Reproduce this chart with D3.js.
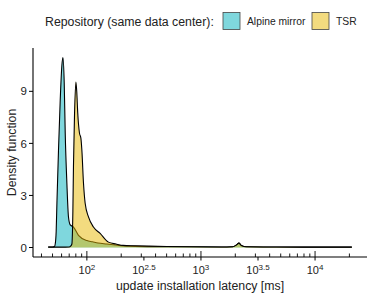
<!DOCTYPE html>
<head>
<meta charset="utf-8">
<script src="https://d3js.org/d3.v7.min.js"></script>
<style>
body { margin:0; background:#fff; }
svg { font-family: "Liberation Sans", Arial, sans-serif; }
</style>
</head>
<body>
<div id="chart"></div>
<script>

// --- data (latency in ms, density on log10 scale) ---
const alpineLatency = [45.8, 50, 52.0, 52.8, 53.8, 54.7, 56.4, 58.4, 60.4, 61.7, 63.3, 64.6, 66.8, 69.0, 71.5, 76.3, 84.4, 100, 112, 125, 150, 190, 240, 400, 800, 1500, 1900, 2050, 2150, 2260, 2500, 4000, 8000, 14000, 21000];
const alpineDensity = [0.03, 0.03, 0.06, 0.2, 0.9, 2.7, 5.6, 8.5, 10.5, 10.95, 9.5, 6.6, 3.7, 1.76, 1.3, 1.18, 0.7, 0.4, 0.33, 0.26, 0.2, 0.12, 0.08, 0.05, 0.04, 0.03, 0.04, 0.15, 0.25, 0.12, 0.04, 0.03, 0.02, 0.02, 0.02];

const tsrLatency = [45.8, 60, 70, 72.0, 73.9, 75.4, 76.3, 77.9, 80.1, 81.5, 83.1, 86.1, 88.6, 90.4, 93.4, 96.6, 103.3, 114.2, 130.7, 154.5, 180, 208, 260, 350, 500, 800, 1500, 1900, 2050, 2150, 2260, 2500, 4000, 8000, 14000, 21000];
const tsrDensity = [0.02, 0.02, 0.03, 0.08, 0.2, 2.1, 4.7, 7.6, 9.54, 9.0, 7.8, 6.6, 6.3, 5.6, 3.7, 2.55, 1.76, 1.18, 0.81, 0.31, 0.2, 0.12, 0.1, 0.08, 0.06, 0.04, 0.03, 0.04, 0.15, 0.25, 0.12, 0.04, 0.03, 0.02, 0.02, 0.02];

const seriesNames = ["Alpine mirror", "TSR"];
const seriesColors = ["#00AFBB", "#E7B800"];
const xBreakExps = [2, 2.5, 3, 3.5, 4];
const yTicks = [0, 3, 6, 9];

let W = 374, H = 299;
let panel = {left: 33, right: 367, top: 48, bottom: 257};

let svg = d3.select("#chart").append("svg")
    .attr("width", W)
    .attr("height", H);

let series = [
  {name: seriesNames[0], color: seriesColors[0], pts: alpineLatency.map((v, i) => ({x: v, y: alpineDensity[i]}))},
  {name: seriesNames[1], color: seriesColors[1], pts: tsrLatency.map((v, i) => ({x: v, y: tsrDensity[i]}))}
];

// ggplot style 5% expansion (in log space for x)
let allX = alpineLatency.concat(tsrLatency);
let lx = d3.extent(allX, d => Math.log10(d));
let ex = (lx[1] - lx[0]) * 0.05;
let x = d3.scaleLog()
    .domain([Math.pow(10, lx[0] - ex), Math.pow(10, lx[1] + ex)])
    .range([panel.left, panel.right]);

let ymax = d3.max(alpineDensity.concat(tsrDensity));
let y = d3.scaleLinear()
    .domain([-ymax * 0.05, ymax * 1.05])
    .range([panel.bottom, panel.top]);

let area = d3.area()
    .x(d => x(d.x))
    .y0(y(0))
    .y1(d => y(d.y))
    .curve(d3.curveMonotoneX);
let line = d3.line()
    .x(d => x(d.x))
    .y(d => y(d.y))
    .curve(d3.curveMonotoneX);

// densities, drawn group by group like geom_density
series.forEach(function(s) {
  svg.append("path")
      .attr("d", area(s.pts))
      .attr("fill", s.color)
      .attr("fill-opacity", 0.5);
  svg.append("path")
      .attr("d", line(s.pts))
      .attr("fill", "none")
      .attr("stroke", "#000")
      .attr("stroke-width", 1.1)
      .attr("stroke-linejoin", "round");
});

// axis lines
svg.append("line")
    .attr("x1", panel.left).attr("x2", panel.left)
    .attr("y1", panel.top).attr("y2", panel.bottom)
    .attr("stroke", "#000").attr("stroke-width", 1.1);
svg.append("line")
    .attr("x1", panel.left).attr("x2", panel.right)
    .attr("y1", panel.bottom).attr("y2", panel.bottom)
    .attr("stroke", "#000").attr("stroke-width", 1.1);

// y ticks
let yAx = svg.append("g");
yTicks.forEach(function(t) {
  yAx.append("line")
      .attr("x1", panel.left - 4).attr("x2", panel.left)
      .attr("y1", y(t)).attr("y2", y(t))
      .attr("stroke", "#000");
  yAx.append("text")
      .attr("x", panel.left - 6)
      .attr("y", y(t))
      .attr("dy", "0.36em")
      .attr("text-anchor", "end")
      .attr("font-size", 11.5)
      .attr("fill", "#222")
      .text(t);
});

// log ticks inside the panel
let logTicks = [];
for (let k = 1; k <= 4; k++) {
  for (let m = 1; m <= 9; m++) {
    let v = m * Math.pow(10, k);
    if (v >= x.domain()[0] && v <= x.domain()[1]) logTicks.push({v: v, long: m == 1});
  }
}
svg.append("g").selectAll("line")
  .data(logTicks)
  .enter().append("line")
    .attr("x1", d => x(d.v)).attr("x2", d => x(d.v))
    .attr("y1", d => panel.bottom - (d.long ? 6 : 3.5))
    .attr("y2", panel.bottom)
    .attr("stroke", "#000")
    .attr("stroke-width", 0.9);

// x axis ticks and labels
let xAx = svg.append("g");
xBreakExps.forEach(function(e) {
  let xp = x(Math.pow(10, e));
  xAx.append("line")
      .attr("x1", xp).attr("x2", xp)
      .attr("y1", panel.bottom).attr("y2", panel.bottom + 3.5)
      .attr("stroke", "#000");
  let t = xAx.append("text")
      .attr("x", xp)
      .attr("y", 274)
      .attr("text-anchor", "middle")
      .attr("font-size", 11)
      .attr("fill", "#222");
  t.append("tspan").text("10");
  t.append("tspan")
      .attr("dy", -4.5)
      .attr("font-size", 8)
      .text(e);
});

// axis titles
svg.append("text")
    .attr("x", (panel.left + panel.right) / 2)
    .attr("y", 290)
    .attr("text-anchor", "middle")
    .attr("font-size", 12.3)
    .attr("fill", "#222")
    .text("update installation latency [ms]");
svg.append("text")
    .attr("transform", "translate(16," + ((panel.top + panel.bottom) / 2) + ") rotate(-90)")
    .attr("text-anchor", "middle")
    .attr("font-size", 12.3)
    .attr("fill", "#222")
    .text("Density function");

// legend on top
let legend = svg.append("g");
legend.append("text")
    .attr("x", 45).attr("y", 26)
    .attr("font-size", 12.3)
    .attr("fill", "#222")
    .text("Repository (same data center):");
let keyX = [223, 312];
series.forEach(function(s, i) {
  legend.append("rect")
      .attr("x", keyX[i]).attr("y", 12.5)
      .attr("width", 17).attr("height", 17)
      .attr("fill", s.color)
      .attr("fill-opacity", 0.5)
      .attr("stroke", "#444")
      .attr("stroke-width", 0.8);
  legend.append("text")
      .attr("x", keyX[i] + 24).attr("y", 24.5)
      .attr("font-size", 10.3)
      .attr("fill", "#222")
      .text(s.name);
});

</script>
</body>
